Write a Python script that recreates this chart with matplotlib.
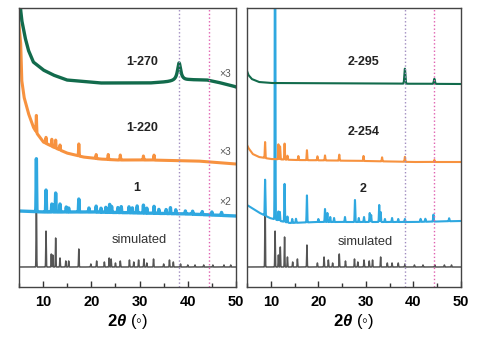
import numpy as np
import matplotlib
matplotlib.use("Agg")
import matplotlib.pyplot as plt

plt.rcParams['font.family'] = ['Liberation Sans', 'DejaVu Sans']
plt.rcParams['mathtext.fontset'] = 'custom'
plt.rcParams['mathtext.rm'] = 'Liberation Sans:bold'
plt.rcParams['mathtext.it'] = 'Liberation Sans:italic:bold'
plt.rcParams['mathtext.bf'] = 'Liberation Sans:bold'

# ---- data (y in arbitrary stacked units) ----
# left panel, compound 1
sim1_base_x = [5, 50]
sim1_base_y = [20, 20]
sim1_pos = [8.6, 10.6, 11.7, 12.0, 12.6, 13.5, 14.7, 15.3, 17.4, 19.9, 21.1, 22.7, 23.7, 24.1,
            25.0, 26.0, 27.9, 28.8, 29.8, 30.9, 31.5, 32.9, 35.0, 36.2, 37.0, 38.5, 40.0, 41.5,
            43.3, 45.2, 47.5, 48.9]
sim1_hgt = [82, 36, 13, 12, 29, 9, 6, 6, 18, 3, 6, 5, 9, 8,
            4, 6, 7, 5, 7, 8, 4, 8, 3, 7, 5, 3, 2, 2,
            2, 2, 2, 2]

exp1_base_x = [5, 10, 20, 30, 40, 50]
exp1_base_y = [76, 75, 75, 74, 73, 71]
exp1_pos = [8.6, 10.6, 11.8, 12.1, 12.6, 13.5, 14.8, 15.3, 17.4, 19.5, 21.0, 22.0, 23.0, 23.8,
            24.2, 25.5, 26.2, 27.8, 28.5, 29.5, 30.8, 31.5, 33.0, 34.0, 35.5, 36.4, 37.5, 39.5,
            41.0, 43.0, 45.0, 47.0]
exp1_hgt = [53, 22, 8, 7, 19, 8, 5, 4, 13, 4, 6, 4, 5, 8,
            6, 5, 6, 6, 5, 7, 8, 5, 7, 4, 4, 6, 4, 3,
            3, 3, 3, 3]

t220_base_x = [5.0, 5.35, 5.56, 6.04, 6.93, 7.96, 8.67, 10.04, 12.1, 14.9, 18.3, 21.8, 25.2, 32, 42, 50]
t220_base_y = [262, 244, 207, 190, 174, 160, 154, 145, 140, 134, 130, 128, 127, 127, 126, 123]
t220_pos = [8.6, 10.6, 11.8, 12.6, 13.5, 17.4, 21.0, 23.5, 26.0, 30.8, 33.0]
t220_hgt = [17, 6, 7, 8, 5, 12, 4, 5, 5, 4, 5]

t270_base_x = [5.0, 5.3, 5.56, 6.24, 6.93, 7.96, 10.04, 12.1, 14.9, 21.8, 32.2, 35.6, 40.4, 43.9, 46, 49.4, 50]
t270_base_y = [300, 279, 267, 250, 237, 225, 217, 212, 207, 204, 204, 205, 207, 207, 205, 201, 200]
t270_pos = [38.2]
t270_hgt = [18]

# right panel, compound 2
sim2_base_x = [5, 50]
sim2_base_y = [20, 20]
sim2_pos = [8.8, 10.9, 11.6, 12.0, 12.9, 13.5, 14.6, 15.6, 17.6, 19.8, 21.2, 22.1, 23.0, 24.4,
            25.7, 27.6, 28.3, 29.6, 30.7, 31.4, 33.1, 34.5, 35.5, 36.8, 38.2, 40.2, 42.0, 44.5,
            46.5, 48.0]
sim2_hgt = [75, 36, 12, 20, 30, 10, 5, 8, 22, 4, 10, 7, 4, 13,
            6, 8, 5, 7, 6, 7, 10, 4, 4, 4, 3, 2, 2, 2,
            2, 2]

exp2_base_x = [5.0, 6.0, 7.7, 9.8, 12, 14, 20, 30, 40, 50]
exp2_base_y = [82, 79, 74, 69, 66, 64, 65, 65, 65, 66]
exp2_pos = [8.8, 10.9, 11.6, 11.9, 12.9, 13.5, 14.5, 15.3, 17.6, 20.0, 21.4, 21.9, 22.5, 23.3,
            25.6, 27.7, 28.5, 29.6, 30.8, 31.1, 32.8, 33.1, 34.0, 35.5, 36.8, 38.2, 41.5, 42.5,
            44.2, 47.5]
exp2_hgt = [36, 400, 9, 9, 38, 6, 4, 4, 27, 3, 13, 9, 5, 4,
            5, 22, 4, 5, 9, 7, 17, 10, 3, 4, 3, 3, 3, 3,
            7, 3]

t254_base_x = [5.0, 5.3, 6.2, 7.5, 10, 15, 30, 40, 50]
t254_base_y = [142, 139, 133, 130, 128, 127, 126, 125, 125]
t254_pos = [8.8, 11.6, 11.95, 12.9, 13.5, 15.8, 17.6, 19.8, 21.4, 24.4, 29.5, 33.4, 38.2, 44.4]
t254_hgt = [16, 15, 13, 16, 4, 4, 10, 4, 5, 6, 5, 4, 5, 2]

t295_base_x = [5.0, 5.3, 6.0, 7.5, 10, 50]
t295_base_y = [216, 212, 208, 205, 204, 203]
t295_pos = [38.2, 44.4]
t295_hgt = [15, 5]

ref_lines = [38.2, 44.4]

tt = np.linspace(5, 50, 6000)


def profile(bx, by, pos, hgt, width, lorentz=False):
    y = np.interp(tt, bx, by)
    for p, h in zip(pos, hgt):
        if lorentz:
            y = y + h / (1 + ((tt - p) / width) ** 2)
        else:
            y = y + h * np.exp(-0.5 * ((tt - p) / width) ** 2)
    return y


green = '#126b4c'
orange = '#f7923f'
blue = '#2fa8e0'
grey = '#555555'

fig = plt.figure(figsize=(4.82, 3.40), dpi=100)
ax1 = fig.add_axes([19 / 482, 53 / 340, 217 / 482, 279 / 340])
ax2 = fig.add_axes([247 / 482, 53 / 340, 214 / 482, 279 / 340])

# left panel
ax1.plot(tt, profile(sim1_base_x, sim1_base_y, sim1_pos, sim1_hgt, 0.05), color=grey, lw=1.1)
ax1.plot(tt, profile(exp1_base_x, exp1_base_y, exp1_pos, exp1_hgt, 0.05), color=blue, lw=2.4)
ax1.plot(tt, profile(t220_base_x, t220_base_y, t220_pos, t220_hgt, 0.05), color=orange, lw=2.2)
ax1.plot(tt, profile(t270_base_x, t270_base_y, t270_pos, t270_hgt, 0.4, lorentz=True), color=green, lw=2.4)

# right panel
ax2.plot(tt, profile(sim2_base_x, sim2_base_y, sim2_pos, sim2_hgt, 0.05), color=grey, lw=1.1)
ax2.plot(tt, profile(exp2_base_x, exp2_base_y, exp2_pos, exp2_hgt, 0.06), color=blue, lw=1.5)
ax2.plot(tt, profile(t254_base_x, t254_base_y, t254_pos, t254_hgt, 0.06), color=orange, lw=1.5)
ax2.plot(tt, profile(t295_base_x, t295_base_y, t295_pos, t295_hgt, 0.11), color=green, lw=1.5)

for ax in (ax1, ax2):
    ax.axvline(ref_lines[0], color='#a08cc0', ls=':', lw=1.0)
    ax.axvline(ref_lines[1], color='#e060b0', ls=':', lw=1.0)
    ax.set_xlim(5, 50)
    ax.set_ylim(0, 279)
    ax.set_yticks([])
    ax.set_xticks([10, 20, 30, 40, 50])
    ax.set_xticks([5, 15, 25, 35, 45], minor=True)
    ax.tick_params(axis='x', which='major', direction='in', length=4, width=1, pad=6,
                   labelsize=10.5, color='#333333')
    ax.tick_params(axis='x', which='minor', direction='in', length=3, width=1, color='#333333')
    for lab in ax.get_xticklabels():
        lab.set_fontweight('bold')
    for s in ax.spines.values():
        s.set_color('#444444')
        s.set_linewidth(1.0)
    ax.set_xlabel(r'$2\theta$' + ' (\u25e6)', fontsize=12, labelpad=2)

lbl = dict(ha='center', va='center', fontsize=9, fontweight='bold', color='#222222')
ax1.text(30.5, 225, '1-270', **lbl)
ax1.text(30.5, 159, '1-220', **lbl)
ax1.text(29.5, 99, '1', **lbl)
ax1.text(29.9, 47, 'simulated', ha='center', va='center', fontsize=9.3, color='#333333')
ax1.text(47.7, 213, '\u00d73', ha='center', va='center', fontsize=7.5, color='#555555')
ax1.text(47.7, 135, '\u00d73', ha='center', va='center', fontsize=7.5, color='#555555')
ax1.text(47.7, 85, '\u00d72', ha='center', va='center', fontsize=7.5, color='#555555')

ax2.text(29.6, 225, '2-295', **lbl)
ax2.text(29.6, 155, '2-254', **lbl)
ax2.text(29.4, 98, '2', **lbl)
ax2.text(29.8, 45, 'simulated', ha='center', va='center', fontsize=9.3, color='#333333')

fig.savefig('out.png', dpi=100)
